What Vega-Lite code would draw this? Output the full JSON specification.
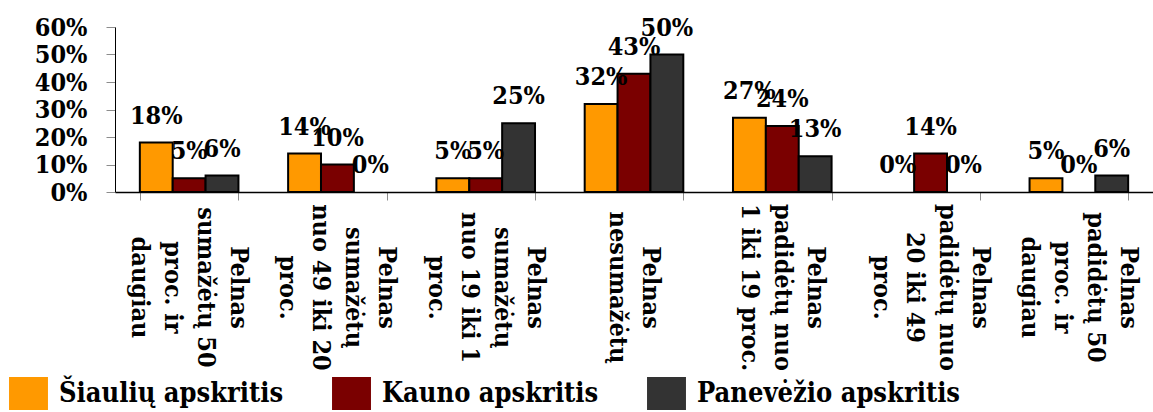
{
  "$schema": "https://vega.github.io/schema/vega-lite/v6.json",
  "width": 1038,
  "height": 165,
  "autosize": {"type": "none"},
  "padding": {"left": 115, "top": 27, "right": 0, "bottom": 220},
  "background": "white",
  "config": {
    "font": "DejaVu Serif Condensed",
    "view": {"stroke": null},
    "axis": {"grid": false}
  },
  "data": {
    "values": [
      {"category": "Pelnas\nsumažėtų 50\nproc. ir\ndaugiau", "region": "Šiaulių apskritis", "value": 0.18},
      {"category": "Pelnas\nsumažėtų 50\nproc. ir\ndaugiau", "region": "Kauno apskritis", "value": 0.05},
      {"category": "Pelnas\nsumažėtų 50\nproc. ir\ndaugiau", "region": "Panevėžio apskritis", "value": 0.06},
      {"category": "Pelnas\nsumažėtų\nnuo 49 iki 20\nproc.", "region": "Šiaulių apskritis", "value": 0.14},
      {"category": "Pelnas\nsumažėtų\nnuo 49 iki 20\nproc.", "region": "Kauno apskritis", "value": 0.10},
      {"category": "Pelnas\nsumažėtų\nnuo 49 iki 20\nproc.", "region": "Panevėžio apskritis", "value": 0.0},
      {"category": "Pelnas\nsumažėtų\nnuo 19 iki 1\nproc.", "region": "Šiaulių apskritis", "value": 0.05},
      {"category": "Pelnas\nsumažėtų\nnuo 19 iki 1\nproc.", "region": "Kauno apskritis", "value": 0.05},
      {"category": "Pelnas\nsumažėtų\nnuo 19 iki 1\nproc.", "region": "Panevėžio apskritis", "value": 0.25},
      {"category": "Pelnas\nnesumažėtų", "region": "Šiaulių apskritis", "value": 0.32},
      {"category": "Pelnas\nnesumažėtų", "region": "Kauno apskritis", "value": 0.43},
      {"category": "Pelnas\nnesumažėtų", "region": "Panevėžio apskritis", "value": 0.50},
      {"category": "Pelnas\npadidėtų nuo\n1 iki 19 proc.", "region": "Šiaulių apskritis", "value": 0.27},
      {"category": "Pelnas\npadidėtų nuo\n1 iki 19 proc.", "region": "Kauno apskritis", "value": 0.24},
      {"category": "Pelnas\npadidėtų nuo\n1 iki 19 proc.", "region": "Panevėžio apskritis", "value": 0.13},
      {"category": "Pelnas\npadidėtų nuo\n20 iki 49\nproc.", "region": "Šiaulių apskritis", "value": 0.0},
      {"category": "Pelnas\npadidėtų nuo\n20 iki 49\nproc.", "region": "Kauno apskritis", "value": 0.14},
      {"category": "Pelnas\npadidėtų nuo\n20 iki 49\nproc.", "region": "Panevėžio apskritis", "value": 0.0},
      {"category": "Pelnas\npadidėtų 50\nproc. ir\ndaugiau", "region": "Šiaulių apskritis", "value": 0.05},
      {"category": "Pelnas\npadidėtų 50\nproc. ir\ndaugiau", "region": "Kauno apskritis", "value": 0.0},
      {"category": "Pelnas\npadidėtų 50\nproc. ir\ndaugiau", "region": "Panevėžio apskritis", "value": 0.06}
    ]
  },
  "encoding": {
    "x": {
      "field": "category",
      "type": "nominal",
      "sort": null,
      "scale": {"paddingInner": 0.335, "paddingOuter": 0.1675},
      "axis": {
        "title": null,
        "labelAngle": 90,
        "labelAlign": "center",
        "labelBaseline": "middle",
        "labelPadding": 87,
        "labelOffset": {
          "condition": [
            {"test": "length(split(datum.value, '\\n')) == 4", "value": 49.5},
            {"test": "length(split(datum.value, '\\n')) == 3", "value": 33}
          ],
          "value": 16.5
        },
        "labelFont": "DejaVu Serif Condensed",
        "labelFontWeight": "bold",
        "labelFontSize": 25,
        "labelLineHeight": 33,
        "labelColor": "black",
        "labelLimit": 0,
        "labelOverlap": false,
        "labelBound": false,
        "labelExpr": "split(datum.label, '\\n')",
        "tickBand": "extent",
        "tickSize": 8,
        "tickColor": "#8c8c8c",
        "domainColor": "black",
        "domainWidth": 1.5
      }
    },
    "xOffset": {
      "field": "region",
      "type": "nominal",
      "sort": ["Šiaulių apskritis", "Kauno apskritis", "Panevėžio apskritis"]
    },
    "y": {
      "field": "value",
      "type": "quantitative",
      "scale": {"domain": [0, 0.6], "nice": false},
      "axis": {
        "title": null,
        "values": [0, 0.1, 0.2, 0.3, 0.4, 0.5, 0.6],
        "format": ".0%",
        "labelFont": "DejaVu Serif Condensed",
        "labelFontWeight": "bold",
        "labelFontSize": 25,
        "labelColor": "black",
        "labelPadding": 19,
        "tickSize": 9,
        "tickColor": "#8c8c8c",
        "domainColor": "black",
        "labelOverlap": false,
        "labelBound": false
      }
    }
  },
  "layer": [
    {
      "transform": [{"filter": "datum.value > 0"}],
      "mark": {"type": "bar", "stroke": "black", "strokeWidth": 2, "opacity": 1},
      "encoding": {
        "color": {
          "field": "region",
          "type": "nominal",
          "sort": ["Šiaulių apskritis", "Kauno apskritis", "Panevėžio apskritis"],
          "scale": {
            "domain": ["Šiaulių apskritis", "Kauno apskritis", "Panevėžio apskritis"],
            "range": ["#FF9900", "#7A0000", "#333333"]
          },
          "legend": {
            "title": null,
            "orient": "none",
            "direction": "horizontal",
            "columns": 3,
            "legendX": -103,
            "legendY": 350,
            "symbolType": "M-1.18,-1H1.18V1H-1.18Z",
            "symbolSize": 1089,
            "symbolStrokeWidth": 0,
            "symbolOpacity": 1,
            "labelFont": "DejaVu Serif Condensed",
            "labelFontWeight": "bold",
            "labelFontSize": 27,
            "labelColor": "black",
            "labelOffset": 14,
            "labelLimit": 0,
            "columnPadding": 48
          }
        }
      }
    },
    {
      "mark": {
        "type": "text",
        "baseline": "alphabetic",
        "dy": -19,
        "font": "DejaVu Serif Condensed",
        "fontWeight": "bold",
        "fontSize": 25,
        "color": "black"
      },
      "encoding": {
        "text": {"field": "value", "type": "quantitative", "format": ".0%"}
      }
    }
  ]
}
